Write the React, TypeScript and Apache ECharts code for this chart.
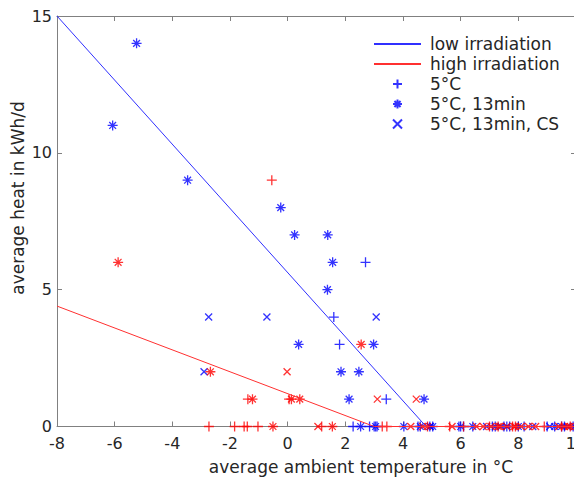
import React, { useEffect, useRef } from "react";
import * as echarts from "echarts";

const FONT = "DejaVu Sans";
const BLUE = "#0000ff";
const RED = "#ff0000";

// Fitted lines: [temperature, heat]
const lowLine = [[-8, 15], [4.8, 0], [10, 0]];
const highLine = [[-8, 4.4], [3.0, 0], [10, 0]];

// Low irradiation (blue)
const lowPlus = [
  [2.7, 6], [1.6, 4], [1.8, 3], [3.42, 1],
  [2.27, 0], [2.84, 0], [3.0, 0], [3.1, 0], [4.52, 0], [5.94, 0], [6.1, 0],
  [7.1, 0], [7.5, 0], [7.7, 0], [8.2, 0], [9.0, 0], [9.6, 0], [9.9, 0],
];
const lowStar = [
  [-5.24, 14], [-6.07, 11], [-3.47, 9], [-0.24, 8], [0.24, 7], [1.39, 7],
  [1.56, 6], [1.38, 5], [0.38, 3], [2.98, 3], [1.85, 2], [2.47, 2], [2.13, 1], [4.73, 1],
  [2.53, 0], [3.05, 0], [4.03, 0], [4.6, 0], [4.93, 0], [5.03, 0], [6.0, 0], [6.42, 0],
  [7.2, 0], [7.6, 0], [8.0, 0], [9.26, 0], [9.5, 0], [9.95, 0],
];
const lowCross = [
  [-2.74, 4], [-0.72, 4], [3.07, 4], [-2.9, 2],
  [4.95, 0], [6.9, 0], [7.4, 0], [8.5, 0], [9.09, 0], [9.7, 0],
];

// High irradiation (red)
const highPlus = [
  [-0.55, 9], [-1.38, 1], [0.05, 1],
  [-2.73, 0], [-1.84, 0], [-1.51, 0], [-1.4, 0], [-1.03, 0], [1.18, 0], [3.28, 0],
  [3.44, 0], [5.62, 0], [6.1, 0], [7.0, 0], [7.8, 0], [8.9, 0], [9.5, 0],
];
const highStar = [
  [-5.88, 6], [-2.68, 2], [-1.22, 1], [0.13, 1], [0.42, 1], [2.55, 3],
  [-0.51, 0], [1.55, 0], [4.85, 0], [7.3, 0], [7.9, 0], [9.8, 0],
];
const highCross = [
  [-0.02, 2], [3.11, 1], [4.46, 1],
  [1.05, 0], [4.27, 0], [4.68, 0], [5.7, 0], [6.55, 0], [6.78, 0], [7.05, 0], [7.35, 0],
  [7.6, 0], [7.85, 0], [8.1, 0], [8.35, 0], [8.6, 0], [9.4, 0], [9.6, 0], [9.75, 0],
];

const xTicks = { min: -8, max: 10, interval: 2 };
const yTicks = { min: 0, max: 15, interval: 5 };

const lineNames = ["low irradiation", "high irradiation"];
const markerNames = ["5°C", "5°C, 13min", "5°C, 13min, CS"];

const PLUS = "path://M5,0L5,10M0,5L10,5";
const STAR = "path://M5,0L5,10M0,5L10,5M1.6,1.6L8.4,8.4M8.4,1.6L1.6,8.4";
const CROSS = "path://M0,0L10,10M10,0L0,10";

function scatter(name: string, data: number[][], symbol: string, size: number, color: string) {
  return {
    name,
    type: "scatter",
    data,
    symbol,
    symbolSize: size,
    symbolKeepAspect: true,
    itemStyle: { color: "transparent", borderColor: color, borderWidth: 1.3 },
    z: 3,
  };
}

export default function App() {
  const ref = useRef<HTMLDivElement>(null);
  useEffect(() => {
    if (!ref.current) return;
    const chart = echarts.init(ref.current, undefined, { renderer: "svg" });
    const axisLine = { show: true, onZero: false, lineStyle: { color: "#808080", width: 1 } };
    const axisTick = { show: true, inside: true, length: 5, lineStyle: { color: "#808080" } };
    chart.setOption({
      animation: false,
      backgroundColor: "#ffffff",
      grid: { left: 57, top: 16, width: 519, height: 410.5, containLabel: false, outerBoundsMode: "none" },
      xAxis: [
        {
          type: "value", ...xTicks, position: "bottom",
          axisLine, axisTick,
          axisLabel: { fontSize: 16, fontFamily: FONT, color: "#262626", margin: 9 },
          splitLine: { show: false },
        },
        {
          type: "value", ...xTicks, position: "top",
          axisLine, axisTick, axisLabel: { show: false }, splitLine: { show: false },
        },
      ],
      yAxis: [
        {
          type: "value", ...yTicks, position: "left",
          axisLine, axisTick,
          axisLabel: { fontSize: 16, fontFamily: FONT, color: "#262626", margin: 5 },
          splitLine: { show: false },
        },
        {
          type: "value", ...yTicks, position: "right",
          axisLine, axisTick, axisLabel: { show: false }, splitLine: { show: false },
        },
      ],
      legend: {
        data: [
          ...lineNames.map((n) => ({ name: n, itemStyle: { opacity: 0 } })),
          ...markerNames.map((n) => ({ name: n })),
        ],
        orient: "vertical",
        left: 373,
        top: 34,
        padding: 0,
        itemWidth: 47,
        itemHeight: 9,
        itemGap: 0,
        selectedMode: false,
        textStyle: { fontSize: 17, fontFamily: FONT, color: "#262626", lineHeight: 20, padding: [0, 0, 0, 4] },
      },
      graphic: [
        {
          type: "text", x: 361, y: 467,
          style: { text: "average ambient temperature in °C", fontSize: 17, fontFamily: FONT, fill: "#262626", align: "center", verticalAlign: "middle" },
        },
        {
          type: "text", x: 18, y: 198, rotation: Math.PI / 2,
          style: { text: "average heat in kWh/d", fontSize: 17, fontFamily: FONT, fill: "#262626", align: "center", verticalAlign: "middle" },
        },
      ],
      series: [
        scatter(markerNames[0], lowPlus, PLUS, 10, BLUE),
        scatter(markerNames[1], lowStar, STAR, 10, BLUE),
        scatter(markerNames[2], lowCross, CROSS, 7, BLUE),
        scatter("5°C high", highPlus, PLUS, 10, RED),
        scatter("5°C, 13min high", highStar, STAR, 10, RED),
        scatter("5°C, 13min, CS high", highCross, CROSS, 7, RED),
        {
          name: lineNames[0], type: "line", data: lowLine, symbol: "none", showSymbol: false,
          lineStyle: { color: "#3030ff", width: 1 }, itemStyle: { color: "#3030ff" }, z: 4,
        },
        {
          name: lineNames[1], type: "line", data: highLine, symbol: "none", showSymbol: false,
          lineStyle: { color: "#ff3030", width: 1 }, itemStyle: { color: "#ff3030" }, z: 4,
        },
      ],
    });
    return () => chart.dispose();
  }, []);
  return <div ref={ref} style={{ position: "fixed", left: 0, top: 0, width: 574, height: 479 }} />;
}
